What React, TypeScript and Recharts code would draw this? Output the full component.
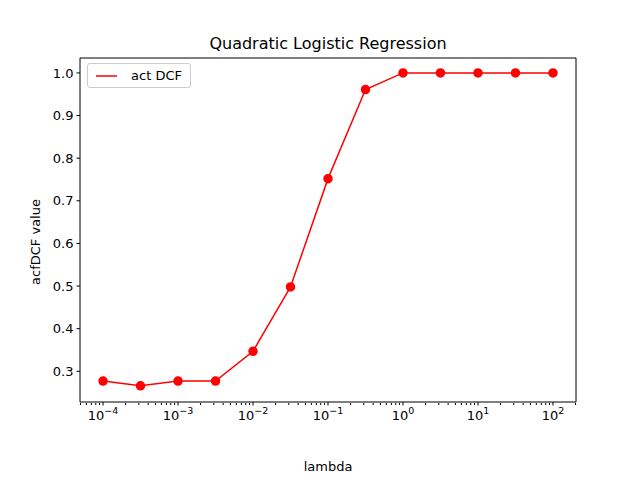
import { LineChart, Line, XAxis, YAxis, Legend } from "recharts";

const lambdas = [1e-4, 3.162e-4, 1e-3, 3.162e-3, 1e-2, 3.162e-2, 1e-1, 3.162e-1, 1, 3.162, 10, 31.62, 100];
const actDCF = [0.277, 0.266, 0.277, 0.277, 0.347, 0.498, 0.752, 0.961, 1.0, 1.0, 1.0, 1.0, 1.0];
const xTicks = [1e-4, 1e-3, 1e-2, 1e-1, 1, 10, 100];
const xExps = ["−4", "−3", "−2", "−1", "0", "1", "2"];
const yTicks = [0.3, 0.4, 0.5, 0.6, 0.7, 0.8, 0.9, 1.0];
const minorTicks: number[] = [];
for (let e = -5; e <= 2; e++) for (let m = 2; m <= 9; m++) {
  const v = m * Math.pow(10, e);
  if (v > Math.pow(10, -4.307) && v < Math.pow(10, 2.307)) minorTicks.push(v);
}

const data = lambdas.map((l, i) => ({ lambda: l, dcf: actDCF[i] }));
const font = "DejaVu Sans, sans-serif";
const xDomain = [Math.pow(10, -4.307), Math.pow(10, 2.307)];
const yDomain = [0.228, 1.035];

const XTick = (props: any) => {
  const { x, y, payload } = props;
  const i = xTicks.findIndex((t) => Math.abs(t - payload.value) / t < 1e-6);
  return (
    <text x={x} y={y + 12} textAnchor="middle" fontFamily={font} fontSize={13} fill="#000">
      10<tspan dy={-6} fontSize={9.5}>{xExps[i]}</tspan>
    </text>
  );
};

const LegendBox = () => (
  <div style={{ border: "1px solid #ccc", borderRadius: 3, background: "#fff", padding: "4px 8px", display: "flex", alignItems: "center", fontFamily: font, fontSize: 13, width: 86, whiteSpace: "nowrap" }}>
    <svg width={28} height={10}><line x1={0} y1={5} x2={28} y2={5} stroke="red" strokeWidth={1.5} /></svg>
    <span style={{ marginLeft: 14 }}>act DCF</span>
  </div>
);

export default function App() {
  return (
    <div style={{ position: "absolute", left: 0, top: 0, width: 640, height: 480, background: "#fff" }}>
      <LineChart width={640} height={480} data={data} margin={{ top: 57, left: 79, right: 63, bottom: 51 }}>
        <XAxis xAxisId="b" dataKey="lambda" type="number" scale="log" domain={xDomain} ticks={xTicks} tick={<XTick />} tickSize={3.5} height={1} interval={0} stroke="#000" allowDataOverflow />
        <XAxis xAxisId="m" dataKey="lambda" type="number" scale="log" domain={xDomain} ticks={minorTicks} tick={() => <g />} tickSize={2} height={1} interval={0} stroke="#000" axisLine={false} allowDataOverflow />
        <XAxis xAxisId="t" orientation="top" dataKey="lambda" type="number" scale="log" domain={xDomain} ticks={[]} tick={false} tickLine={false} height={1} stroke="#000" allowDataOverflow />
        <YAxis yAxisId="l" type="number" domain={yDomain} ticks={yTicks} tickFormatter={(v) => Number(v).toFixed(1)} tickSize={3.5} tickMargin={3} width={1} interval={0} stroke="#000" tick={{ fill: "#000", fontFamily: font, fontSize: 13 }} allowDataOverflow />
        <YAxis yAxisId="r" orientation="right" type="number" domain={yDomain} ticks={[]} tick={false} tickLine={false} width={1} stroke="#000" allowDataOverflow />
        <Legend content={<LegendBox />} wrapperStyle={{ position: "absolute", left: 87, top: 63, width: "auto" }} />
        <Line xAxisId="b" yAxisId="l" dataKey="dcf" name="act DCF" stroke="red" strokeWidth={1.5} dot={{ r: 4, fill: "red", stroke: "red" }} isAnimationActive={false} />
        <text x={328} y={49} textAnchor="middle" fontFamily={font} fontSize={16}>Quadratic Logistic Regression</text>
        <text x={328} y={471} textAnchor="middle" fontFamily={font} fontSize={13}>lambda</text>
        <text x={40} y={242} textAnchor="middle" fontFamily={font} fontSize={13} transform="rotate(-90 40 242)">acfDCF value</text>
      </LineChart>
    </div>
  );
}
